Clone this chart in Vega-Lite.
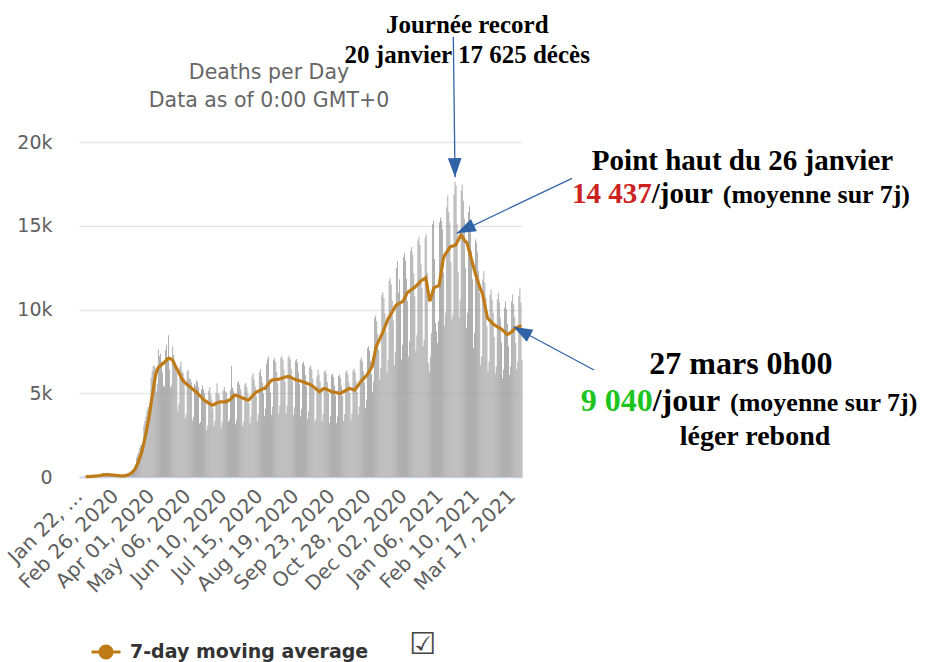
{
"$schema": "https://vega.github.io/schema/vega-lite/v6.json",
"width": 443, "height": 335,
"autosize": {"type": "none"},
"padding": {"left": 79, "top": 142, "right": 403, "bottom": 185},
"background": "white",
"data": {"values": [
{"date":"2020-01-22","deaths":17},{"date":"2020-01-23","deaths":1},{"date":"2020-01-24","deaths":8},{"date":"2020-01-25","deaths":16},{"date":"2020-01-26","deaths":14},{"date":"2020-01-27","deaths":26},{"date":"2020-01-28","deaths":49,"ma":19},{"date":"2020-01-29","deaths":2,"ma":17},{"date":"2020-01-30","deaths":38,"ma":22},{"date":"2020-01-31","deaths":42,"ma":27},
{"date":"2020-02-01","deaths":46,"ma":31},{"date":"2020-02-02","deaths":45,"ma":35},{"date":"2020-02-03","deaths":57,"ma":40},{"date":"2020-02-04","deaths":64,"ma":42},{"date":"2020-02-05","deaths":66,"ma":51},{"date":"2020-02-06","deaths":73,"ma":56},{"date":"2020-02-07","deaths":73,"ma":61},{"date":"2020-02-08","deaths":86,"ma":66},{"date":"2020-02-09","deaths":89,"ma":73},{"date":"2020-02-10","deaths":97,"ma":78},{"date":"2020-02-11","deaths":108,"ma":85},{"date":"2020-02-12","deaths":97,"ma":89},{"date":"2020-02-13","deaths":254,"ma":115},{"date":"2020-02-14","deaths":121,"ma":122},{"date":"2020-02-15","deaths":143,"ma":130},{"date":"2020-02-16","deaths":142,"ma":137},{"date":"2020-02-17","deaths":106,"ma":139},{"date":"2020-02-18","deaths":98,"ma":137},{"date":"2020-02-19","deaths":139,"ma":143},{"date":"2020-02-20","deaths":115,"ma":123},{"date":"2020-02-21","deaths":118,"ma":123},{"date":"2020-02-22","deaths":109,"ma":118},{"date":"2020-02-23","deaths":97,"ma":112},{"date":"2020-02-24","deaths":150,"ma":118},{"date":"2020-02-25","deaths":71,"ma":114},{"date":"2020-02-26","deaths":64,"ma":103},{"date":"2020-02-27","deaths":37,"ma":92},{"date":"2020-02-28","deaths":58,"ma":84},{"date":"2020-02-29","deaths":67,"ma":78},
{"date":"2020-03-01","deaths":73,"ma":74},{"date":"2020-03-02","deaths":66,"ma":62},{"date":"2020-03-03","deaths":72,"ma":62},{"date":"2020-03-04","deaths":84,"ma":65},{"date":"2020-03-05","deaths":80,"ma":71},{"date":"2020-03-06","deaths":101,"ma":78},{"date":"2020-03-07","deaths":103,"ma":83},{"date":"2020-03-08","deaths":228,"ma":105},{"date":"2020-03-09","deaths":201,"ma":124},{"date":"2020-03-10","deaths":272,"ma":153},{"date":"2020-03-11","deaths":328,"ma":188},{"date":"2020-03-12","deaths":351,"ma":226},{"date":"2020-03-13","deaths":438,"ma":274},{"date":"2020-03-14","deaths":406,"ma":318},{"date":"2020-03-15","deaths":630,"ma":400},{"date":"2020-03-16","deaths":760,"ma":490},{"date":"2020-03-17","deaths":1170,"ma":600},{"date":"2020-03-18","deaths":1350,"ma":740},{"date":"2020-03-19","deaths":1470,"ma":890},{"date":"2020-03-20","deaths":1730,"ma":1060},{"date":"2020-03-21","deaths":1910,"ma":1230},{"date":"2020-03-22","deaths":1920,"ma":1400},{"date":"2020-03-23","deaths":2090,"ma":1650},{"date":"2020-03-24","deaths":3060,"ma":1910},{"date":"2020-03-25","deaths":3350,"ma":2180},{"date":"2020-03-26","deaths":3590,"ma":2460},{"date":"2020-03-27","deaths":3970,"ma":2780},{"date":"2020-03-28","deaths":4200,"ma":3100},{"date":"2020-03-29","deaths":4070,"ma":3420},{"date":"2020-03-30","deaths":4490,"ma":3780},{"date":"2020-03-31","deaths":5920,"ma":4200},
{"date":"2020-04-01","deaths":6350,"ma":4620},{"date":"2020-04-02","deaths":6620,"ma":4990},{"date":"2020-04-03","deaths":6640,"ma":5380},{"date":"2020-04-04","deaths":6480,"ma":5770},{"date":"2020-04-05","deaths":5120,"ma":6130},{"date":"2020-04-06","deaths":5580,"ma":6320},{"date":"2020-04-07","deaths":7610,"ma":6480},{"date":"2020-04-08","deaths":7230,"ma":6570},{"date":"2020-04-09","deaths":7360,"ma":6620},{"date":"2020-04-10","deaths":6900,"ma":6670},{"date":"2020-04-11","deaths":6240,"ma":6720},{"date":"2020-04-12","deaths":5450,"ma":6770},{"date":"2020-04-13","deaths":5380,"ma":6820},{"date":"2020-04-14","deaths":7580,"ma":6880},{"date":"2020-04-15","deaths":7910,"ma":6950},{"date":"2020-04-16","deaths":7160,"ma":7020},{"date":"2020-04-17","deaths":8460,"ma":7080},{"date":"2020-04-18","deaths":6420,"ma":7090},{"date":"2020-04-19","deaths":5350,"ma":7060},{"date":"2020-04-20","deaths":5500,"ma":7030},{"date":"2020-04-21","deaths":7800,"ma":7000},{"date":"2020-04-22","deaths":7300,"ma":6900},{"date":"2020-04-23","deaths":6900,"ma":6760},{"date":"2020-04-24","deaths":6750,"ma":6620},{"date":"2020-04-25","deaths":6250,"ma":6500},{"date":"2020-04-26","deaths":3910,"ma":6400},{"date":"2020-04-27","deaths":4370,"ma":6280},{"date":"2020-04-28","deaths":6610,"ma":6160},{"date":"2020-04-29","deaths":6900,"ma":6040},{"date":"2020-04-30","deaths":6330,"ma":5910},
{"date":"2020-05-01","deaths":6210,"ma":5790},{"date":"2020-05-02","deaths":5920,"ma":5730},{"date":"2020-05-03","deaths":3520,"ma":5670},{"date":"2020-05-04","deaths":3740,"ma":5610},{"date":"2020-05-05","deaths":6300,"ma":5550},{"date":"2020-05-06","deaths":6410,"ma":5490},{"date":"2020-05-07","deaths":5870,"ma":5440},{"date":"2020-05-08","deaths":5870,"ma":5390},{"date":"2020-05-09","deaths":5660,"ma":5340},{"date":"2020-05-10","deaths":3380,"ma":5290},{"date":"2020-05-11","deaths":3580,"ma":5240},{"date":"2020-05-12","deaths":5570,"ma":5190},{"date":"2020-05-13","deaths":5470,"ma":5140},{"date":"2020-05-14","deaths":5770,"ma":5090},{"date":"2020-05-15","deaths":5670,"ma":5030},{"date":"2020-05-16","deaths":5370,"ma":4970},{"date":"2020-05-17","deaths":3190,"ma":4900},{"date":"2020-05-18","deaths":3280,"ma":4840},{"date":"2020-05-19","deaths":5240,"ma":4780},{"date":"2020-05-20","deaths":5470,"ma":4720},{"date":"2020-05-21","deaths":5240,"ma":4650},{"date":"2020-05-22","deaths":5020,"ma":4590},{"date":"2020-05-23","deaths":4470,"ma":4550},{"date":"2020-05-24","deaths":2790,"ma":4510},{"date":"2020-05-25","deaths":3090,"ma":4470},{"date":"2020-05-26","deaths":5150,"ma":4430},{"date":"2020-05-27","deaths":5360,"ma":4390},{"date":"2020-05-28","deaths":4930,"ma":4350},{"date":"2020-05-29","deaths":4630,"ma":4310},{"date":"2020-05-30","deaths":4080,"ma":4290},{"date":"2020-05-31","deaths":3040,"ma":4310},
{"date":"2020-06-01","deaths":3350,"ma":4340},{"date":"2020-06-02","deaths":5010,"ma":4370},{"date":"2020-06-03","deaths":5590,"ma":4410},{"date":"2020-06-04","deaths":5010,"ma":4440},{"date":"2020-06-05","deaths":4920,"ma":4460},{"date":"2020-06-06","deaths":4380,"ma":4480},{"date":"2020-06-07","deaths":2960,"ma":4490},{"date":"2020-06-08","deaths":3320,"ma":4490},{"date":"2020-06-09","deaths":5160,"ma":4480},{"date":"2020-06-10","deaths":5390,"ma":4480},{"date":"2020-06-11","deaths":5120,"ma":4490},{"date":"2020-06-12","deaths":5030,"ma":4490},{"date":"2020-06-13","deaths":4450,"ma":4520},{"date":"2020-06-14","deaths":3300,"ma":4550},{"date":"2020-06-15","deaths":3400,"ma":4580},{"date":"2020-06-16","deaths":5200,"ma":4610},{"date":"2020-06-17","deaths":6630,"ma":4670},{"date":"2020-06-18","deaths":5350,"ma":4740},{"date":"2020-06-19","deaths":5150,"ma":4810},{"date":"2020-06-20","deaths":4920,"ma":4860},{"date":"2020-06-21","deaths":3140,"ma":4890},{"date":"2020-06-22","deaths":3430,"ma":4870},{"date":"2020-06-23","deaths":5620,"ma":4850},{"date":"2020-06-24","deaths":5710,"ma":4830},{"date":"2020-06-25","deaths":5520,"ma":4800},{"date":"2020-06-26","deaths":5240,"ma":4780},{"date":"2020-06-27","deaths":4660,"ma":4750},{"date":"2020-06-28","deaths":3040,"ma":4730},{"date":"2020-06-29","deaths":3310,"ma":4700},{"date":"2020-06-30","deaths":5520,"ma":4680},
{"date":"2020-07-01","deaths":5610,"ma":4650},{"date":"2020-07-02","deaths":5340,"ma":4620},{"date":"2020-07-03","deaths":4970,"ma":4600},{"date":"2020-07-04","deaths":4420,"ma":4590},{"date":"2020-07-05","deaths":3200,"ma":4650},{"date":"2020-07-06","deaths":3600,"ma":4710},{"date":"2020-07-07","deaths":6000,"ma":4780},{"date":"2020-07-08","deaths":6200,"ma":4840},{"date":"2020-07-09","deaths":5800,"ma":4910},{"date":"2020-07-10","deaths":5400,"ma":4980},{"date":"2020-07-11","deaths":4800,"ma":5040},{"date":"2020-07-12","deaths":3330,"ma":5090},{"date":"2020-07-13","deaths":3740,"ma":5110},{"date":"2020-07-14","deaths":6240,"ma":5140},{"date":"2020-07-15","deaths":6450,"ma":5170},{"date":"2020-07-16","deaths":6030,"ma":5200},{"date":"2020-07-17","deaths":5620,"ma":5230},{"date":"2020-07-18","deaths":4990,"ma":5260},{"date":"2020-07-19","deaths":3620,"ma":5290},{"date":"2020-07-20","deaths":4070,"ma":5290},{"date":"2020-07-21","deaths":6780,"ma":5370},{"date":"2020-07-22","deaths":7050,"ma":5450},{"date":"2020-07-23","deaths":7200,"ma":5530},{"date":"2020-07-24","deaths":5800,"ma":5610},{"date":"2020-07-25","deaths":5030,"ma":5690},{"date":"2020-07-26","deaths":3720,"ma":5750},{"date":"2020-07-27","deaths":4190,"ma":5790},{"date":"2020-07-28","deaths":6980,"ma":5800},{"date":"2020-07-29","deaths":7100,"ma":5810},{"date":"2020-07-30","deaths":6870,"ma":5820},{"date":"2020-07-31","deaths":6290,"ma":5820},
{"date":"2020-08-01","deaths":5590,"ma":5830},{"date":"2020-08-02","deaths":3800,"ma":5830},{"date":"2020-08-03","deaths":4270,"ma":5850},{"date":"2020-08-04","deaths":7120,"ma":5870},{"date":"2020-08-05","deaths":7230,"ma":5890},{"date":"2020-08-06","deaths":7000,"ma":5910},{"date":"2020-08-07","deaths":6400,"ma":5930},{"date":"2020-08-08","deaths":5690,"ma":5950},{"date":"2020-08-09","deaths":3810,"ma":5970},{"date":"2020-08-10","deaths":4280,"ma":5980},{"date":"2020-08-11","deaths":7140,"ma":5990},{"date":"2020-08-12","deaths":7260,"ma":5990},{"date":"2020-08-13","deaths":7020,"ma":5970},{"date":"2020-08-14","deaths":6430,"ma":5950},{"date":"2020-08-15","deaths":5710,"ma":5920},{"date":"2020-08-16","deaths":3700,"ma":5890},{"date":"2020-08-17","deaths":4160,"ma":5860},{"date":"2020-08-18","deaths":6940,"ma":5830},{"date":"2020-08-19","deaths":7050,"ma":5810},{"date":"2020-08-20","deaths":6820,"ma":5790},{"date":"2020-08-21","deaths":6240,"ma":5780},{"date":"2020-08-22","deaths":5550,"ma":5760},{"date":"2020-08-23","deaths":3610,"ma":5740},{"date":"2020-08-24","deaths":4060,"ma":5720},{"date":"2020-08-25","deaths":6770,"ma":5700},{"date":"2020-08-26","deaths":6880,"ma":5690},{"date":"2020-08-27","deaths":6660,"ma":5660},{"date":"2020-08-28","deaths":6090,"ma":5640},{"date":"2020-08-29","deaths":5410,"ma":5610},{"date":"2020-08-30","deaths":3480,"ma":5590},{"date":"2020-08-31","deaths":3920,"ma":5560},
{"date":"2020-09-01","deaths":6530,"ma":5540},{"date":"2020-09-02","deaths":6640,"ma":5510},{"date":"2020-09-03","deaths":6420,"ma":5490},{"date":"2020-09-04","deaths":5880,"ma":5440},{"date":"2020-09-05","deaths":5210,"ma":5390},{"date":"2020-09-06","deaths":3300,"ma":5340},{"date":"2020-09-07","deaths":3500,"ma":5290},{"date":"2020-09-08","deaths":6000,"ma":5240},{"date":"2020-09-09","deaths":6400,"ma":5190},{"date":"2020-09-10","deaths":6100,"ma":5140},{"date":"2020-09-11","deaths":5700,"ma":5090},{"date":"2020-09-12","deaths":5050,"ma":5140},{"date":"2020-09-13","deaths":3350,"ma":5190},{"date":"2020-09-14","deaths":3770,"ma":5240},{"date":"2020-09-15","deaths":6280,"ma":5270},{"date":"2020-09-16","deaths":6380,"ma":5290},{"date":"2020-09-17","deaths":6170,"ma":5260},{"date":"2020-09-18","deaths":5650,"ma":5230},{"date":"2020-09-19","deaths":5010,"ma":5200},{"date":"2020-09-20","deaths":3240,"ma":5170},{"date":"2020-09-21","deaths":3640,"ma":5140},{"date":"2020-09-22","deaths":6070,"ma":5110},{"date":"2020-09-23","deaths":6170,"ma":5090},{"date":"2020-09-24","deaths":5970,"ma":5080},{"date":"2020-09-25","deaths":5470,"ma":5060},{"date":"2020-09-26","deaths":4860,"ma":5050},{"date":"2020-09-27","deaths":3210,"ma":5040},{"date":"2020-09-28","deaths":3610,"ma":5030},{"date":"2020-09-29","deaths":6020,"ma":5010},{"date":"2020-09-30","deaths":6120,"ma":5000},
{"date":"2020-10-01","deaths":5920,"ma":4990},{"date":"2020-10-02","deaths":5420,"ma":5020},{"date":"2020-10-03","deaths":4840,"ma":5050},{"date":"2020-10-04","deaths":3340,"ma":5090},{"date":"2020-10-05","deaths":3760,"ma":5120},{"date":"2020-10-06","deaths":6260,"ma":5150},{"date":"2020-10-07","deaths":6370,"ma":5190},{"date":"2020-10-08","deaths":6160,"ma":5220},{"date":"2020-10-09","deaths":5640,"ma":5260},{"date":"2020-10-10","deaths":5010,"ma":5290},{"date":"2020-10-11","deaths":3390,"ma":5270},{"date":"2020-10-12","deaths":3820,"ma":5250},{"date":"2020-10-13","deaths":6360,"ma":5230},{"date":"2020-10-14","deaths":6470,"ma":5210},{"date":"2020-10-15","deaths":6250,"ma":5190},{"date":"2020-10-16","deaths":5720,"ma":5270},{"date":"2020-10-17","deaths":5090,"ma":5350},{"date":"2020-10-18","deaths":3740,"ma":5430},{"date":"2020-10-19","deaths":4210,"ma":5510},{"date":"2020-10-20","deaths":7020,"ma":5600},{"date":"2020-10-21","deaths":7140,"ma":5690},{"date":"2020-10-22","deaths":6900,"ma":5760},{"date":"2020-10-23","deaths":6320,"ma":5820},{"date":"2020-10-24","deaths":5620,"ma":5890},{"date":"2020-10-25","deaths":4100,"ma":5960},{"date":"2020-10-26","deaths":4610,"ma":6020},{"date":"2020-10-27","deaths":7680,"ma":6090},{"date":"2020-10-28","deaths":7810,"ma":6190},{"date":"2020-10-29","deaths":7550,"ma":6290},{"date":"2020-10-30","deaths":6910,"ma":6390},{"date":"2020-10-31","deaths":6140,"ma":6490},
{"date":"2020-11-01","deaths":5060,"ma":6590},{"date":"2020-11-02","deaths":5690,"ma":6900},{"date":"2020-11-03","deaths":9480,"ma":7200},{"date":"2020-11-04","deaths":9640,"ma":7500},{"date":"2020-11-05","deaths":9320,"ma":7790},{"date":"2020-11-06","deaths":8530,"ma":7930},{"date":"2020-11-07","deaths":7580,"ma":8060},{"date":"2020-11-08","deaths":5790,"ma":8190},{"date":"2020-11-09","deaths":6520,"ma":8320},{"date":"2020-11-10","deaths":10860,"ma":8460},{"date":"2020-11-11","deaths":11040,"ma":8590},{"date":"2020-11-12","deaths":10680,"ma":8740},{"date":"2020-11-13","deaths":9770,"ma":8890},{"date":"2020-11-14","deaths":8690,"ma":9050},{"date":"2020-11-15","deaths":6240,"ma":9200},{"date":"2020-11-16","deaths":7020,"ma":9360},{"date":"2020-11-17","deaths":11700,"ma":9500},{"date":"2020-11-18","deaths":11900,"ma":9590},{"date":"2020-11-19","deaths":11510,"ma":9700},{"date":"2020-11-20","deaths":10530,"ma":9800},{"date":"2020-11-21","deaths":9350,"ma":9910},{"date":"2020-11-22","deaths":6660,"ma":10010},{"date":"2020-11-23","deaths":7490,"ma":10120},{"date":"2020-11-24","deaths":12480,"ma":10230},{"date":"2020-11-25","deaths":12900,"ma":10290},{"date":"2020-11-26","deaths":11000,"ma":10320},{"date":"2020-11-27","deaths":11800,"ma":10350},{"date":"2020-11-28","deaths":10470,"ma":10380},{"date":"2020-11-29","deaths":7010,"ma":10420},{"date":"2020-11-30","deaths":7880,"ma":10460},
{"date":"2020-12-01","deaths":13140,"ma":10490},{"date":"2020-12-02","deaths":13360,"ma":10610},{"date":"2020-12-03","deaths":12920,"ma":10730},{"date":"2020-12-04","deaths":11830,"ma":10860},{"date":"2020-12-05","deaths":10510,"ma":10990},{"date":"2020-12-06","deaths":7200,"ma":11040},{"date":"2020-12-07","deaths":8100,"ma":11080},{"date":"2020-12-08","deaths":13500,"ma":11130},{"date":"2020-12-09","deaths":13730,"ma":11180},{"date":"2020-12-10","deaths":13280,"ma":11220},{"date":"2020-12-11","deaths":12150,"ma":11270},{"date":"2020-12-12","deaths":10790,"ma":11300},{"date":"2020-12-13","deaths":7520,"ma":11360},{"date":"2020-12-14","deaths":8460,"ma":11420},{"date":"2020-12-15","deaths":14100,"ma":11480},{"date":"2020-12-16","deaths":14340,"ma":11540},{"date":"2020-12-17","deaths":13870,"ma":11600},{"date":"2020-12-18","deaths":12690,"ma":11690},{"date":"2020-12-19","deaths":11270,"ma":11730},{"date":"2020-12-20","deaths":7800,"ma":11770},{"date":"2020-12-21","deaths":8200,"ma":11810},{"date":"2020-12-22","deaths":14300,"ma":11850},{"date":"2020-12-23","deaths":14500,"ma":11890},{"date":"2020-12-24","deaths":12200,"ma":11600},{"date":"2020-12-25","deaths":6800,"ma":11200},{"date":"2020-12-26","deaths":6300,"ma":10840},{"date":"2020-12-27","deaths":7200,"ma":10490},{"date":"2020-12-28","deaths":8600,"ma":10680},{"date":"2020-12-29","deaths":15100,"ma":10880},{"date":"2020-12-30","deaths":15300,"ma":11090},{"date":"2020-12-31","deaths":13000,"ma":11290},
{"date":"2021-01-01","deaths":9200,"ma":11320},{"date":"2021-01-02","deaths":8700,"ma":11350},{"date":"2021-01-03","deaths":8000,"ma":11380},{"date":"2021-01-04","deaths":9300,"ma":11410},{"date":"2021-01-05","deaths":15200,"ma":11430},{"date":"2021-01-06","deaths":15500,"ma":11800},{"date":"2021-01-07","deaths":15300,"ma":12200},{"date":"2021-01-08","deaths":14800,"ma":12600},{"date":"2021-01-09","deaths":12200,"ma":13000},{"date":"2021-01-10","deaths":9000,"ma":13190},{"date":"2021-01-11","deaths":9800,"ma":13290},{"date":"2021-01-12","deaths":16100,"ma":13380},{"date":"2021-01-13","deaths":16800,"ma":13470},{"date":"2021-01-14","deaths":15800,"ma":13560},{"date":"2021-01-15","deaths":15200,"ma":13660},{"date":"2021-01-16","deaths":12850,"ma":13750},{"date":"2021-01-17","deaths":9400,"ma":13770},{"date":"2021-01-18","deaths":9700,"ma":13780},{"date":"2021-01-19","deaths":16900,"ma":13800},{"date":"2021-01-20","deaths":17625,"ma":13820},{"date":"2021-01-21","deaths":17400,"ma":13830},{"date":"2021-01-22","deaths":15100,"ma":13950},{"date":"2021-01-23","deaths":12225,"ma":14080},{"date":"2021-01-24","deaths":9500,"ma":14200},{"date":"2021-01-25","deaths":10600,"ma":14320},{"date":"2021-01-26","deaths":17100,"ma":14437},{"date":"2021-01-27","deaths":17450,"ma":14380},{"date":"2021-01-28","deaths":16500,"ma":14300},{"date":"2021-01-29","deaths":15400,"ma":14200},{"date":"2021-01-30","deaths":12500,"ma":14100},{"date":"2021-01-31","deaths":8900,"ma":14050},
{"date":"2021-02-01","deaths":9800,"ma":13990},{"date":"2021-02-02","deaths":15800,"ma":13770},{"date":"2021-02-03","deaths":16200,"ma":13550},{"date":"2021-02-04","deaths":15000,"ma":13330},{"date":"2021-02-05","deaths":13500,"ma":13100},{"date":"2021-02-06","deaths":11800,"ma":12870},{"date":"2021-02-07","deaths":7700,"ma":12640},{"date":"2021-02-08","deaths":8600,"ma":12420},{"date":"2021-02-09","deaths":14200,"ma":12190},{"date":"2021-02-10","deaths":14000,"ma":12000},{"date":"2021-02-11","deaths":13400,"ma":11820},{"date":"2021-02-12","deaths":12300,"ma":11630},{"date":"2021-02-13","deaths":11000,"ma":11440},{"date":"2021-02-14","deaths":6700,"ma":11240},{"date":"2021-02-15","deaths":7200,"ma":11110},{"date":"2021-02-16","deaths":11800,"ma":10990},{"date":"2021-02-17","deaths":12300,"ma":10690},{"date":"2021-02-18","deaths":11600,"ma":10390},{"date":"2021-02-19","deaths":10700,"ma":10090},{"date":"2021-02-20","deaths":9000,"ma":9790},{"date":"2021-02-21","deaths":6300,"ma":9490},{"date":"2021-02-22","deaths":6900,"ma":9430},{"date":"2021-02-23","deaths":10900,"ma":9360},{"date":"2021-02-24","deaths":11200,"ma":9300},{"date":"2021-02-25","deaths":10600,"ma":9240},{"date":"2021-02-26","deaths":9800,"ma":9170},{"date":"2021-02-27","deaths":8350,"ma":9110},{"date":"2021-02-28","deaths":6200,"ma":9070},
{"date":"2021-03-01","deaths":6600,"ma":9030},{"date":"2021-03-02","deaths":10600,"ma":8990},{"date":"2021-03-03","deaths":11000,"ma":8950},{"date":"2021-03-04","deaths":10400,"ma":8920},{"date":"2021-03-05","deaths":9500,"ma":8880},{"date":"2021-03-06","deaths":8000,"ma":8850},{"date":"2021-03-07","deaths":5900,"ma":8810},{"date":"2021-03-08","deaths":6400,"ma":8750},{"date":"2021-03-09","deaths":10100,"ma":8690},{"date":"2021-03-10","deaths":10500,"ma":8630},{"date":"2021-03-11","deaths":10000,"ma":8570},{"date":"2021-03-12","deaths":9150,"ma":8510},{"date":"2021-03-13","deaths":7800,"ma":8520},{"date":"2021-03-14","deaths":6100,"ma":8560},{"date":"2021-03-15","deaths":6600,"ma":8600},{"date":"2021-03-16","deaths":10500,"ma":8650},{"date":"2021-03-17","deaths":10900,"ma":8690},{"date":"2021-03-18","deaths":10300,"ma":8760},{"date":"2021-03-19","deaths":9550,"ma":8830},{"date":"2021-03-20","deaths":8000,"ma":8890},{"date":"2021-03-21","deaths":6400,"ma":8920},{"date":"2021-03-22","deaths":6900,"ma":8950},{"date":"2021-03-23","deaths":10800,"ma":8970},{"date":"2021-03-24","deaths":11300,"ma":8990},{"date":"2021-03-25","deaths":10400,"ma":9010},{"date":"2021-03-26","deaths":7000,"ma":9040}
]},
"layer": [
{"mark": {"type": "bar", "color": "#999999", "binSpacing": 0.25},
 "encoding": {
  "x": {"field": "date", "type": "temporal", "timeUnit": "utcyearmonthdate",
   "scale": {"type": "utc", "nice": false, "domain": [{"year":2020,"month":1,"date":22,"utc":true},{"year":2021,"month":3,"date":27,"utc":true}]},
   "axis": {"title": null, "grid": false, "ticks": false, "labels": false, "domainColor": "#ccd6eb", "domainWidth": 1.5}},
  "y": {"field": "deaths", "type": "quantitative",
   "scale": {"domain": [0, 20000], "nice": false},
   "axis": {"title": null, "values": [0, 5000, 10000, 15000, 20000], "labelExpr": "datum.value == 0 ? '0' : format(datum.value / 1000, 'd') + 'k'", "grid": true, "gridColor": "#e6e6e6", "gridWidth": 1.5, "domain": false, "ticks": false, "tickSize": 0, "labelPadding": 27, "labelFontSize": 19, "labelColor": "#606060", "labelFont": "DejaVu Sans"}}
 }},
{"mark": {"type": "line", "strokeWidth": 3.2},
 "encoding": {
  "x": {"field": "date", "type": "temporal", "timeUnit": "utcyearmonthdate", "bandPosition": 0.5},
  "y": {"field": "ma", "type": "quantitative"},
  "color": {"datum": "7-day moving average", "type": "nominal",
   "scale": {"range": ["#bf7b18"]},
   "legend": {"title": null, "orient": "none", "legendX": 11, "legendY": 494, "labelLimit": 0, "symbolType": "M-1,0L1,0M-0.42,0A0.42,0.42,0,1,0,0.42,0A0.42,0.42,0,1,0,-0.42,0Z", "symbolSize": 841, "symbolStrokeWidth": 3, "symbolFillColor": "#bf7b18", "symbolStrokeColor": "#bf7b18", "labelFont": "DejaVu Sans", "labelFontSize": 19, "labelFontWeight": "bold", "labelColor": "#333333", "labelOffset": 8}}
 }},
{"data": {"values": [
  {"tick":"2020-01-22","label":"Jan 22, …"},{"tick":"2020-02-26","label":"Feb 26, 2020"},{"tick":"2020-04-01","label":"Apr 01, 2020"},{"tick":"2020-05-06","label":"May 06, 2020"},{"tick":"2020-06-10","label":"Jun 10, 2020"},{"tick":"2020-07-15","label":"Jul 15, 2020"},{"tick":"2020-08-19","label":"Aug 19, 2020"},{"tick":"2020-09-23","label":"Sep 23, 2020"},{"tick":"2020-10-28","label":"Oct 28, 2020"},{"tick":"2020-12-02","label":"Dec 02, 2020"},{"tick":"2021-01-06","label":"Jan 06, 2021"},{"tick":"2021-02-10","label":"Feb 10, 2021"},{"tick":"2021-03-17","label":"Mar 17, 2021"}]},
 "mark": {"type": "text", "font": "DejaVu Sans", "fontSize": 20, "color": "#606060", "align": "right", "baseline": "middle", "angle": 315},
 "encoding": {"x": {"field": "tick", "type": "temporal", "timeUnit": "utcyearmonthdate", "bandPosition": 0.5}, "y": {"datum": -955, "type": "quantitative"}, "text": {"field": "label"}}},
{"data": {"values": [{"label": "Deaths per Day"}]},
 "mark": {"type": "text", "font": "DejaVu Sans", "fontSize": 20.5, "color": "#666666", "align": "center", "baseline": "alphabetic"},
 "encoding": {"x": {"datum": {"year":2020,"month":7,"date":24,"hours":10,"utc":true}, "type": "temporal", "scale": {"type": "utc"}}, "y": {"datum": 23779, "type": "quantitative"}, "text": {"field": "label"}}},
{"data": {"values": [{"label": "Data as of 0:00 GMT+0"}]},
 "mark": {"type": "text", "font": "DejaVu Sans", "fontSize": 20.5, "color": "#666666", "align": "center", "baseline": "alphabetic"},
 "encoding": {"x": {"datum": {"year":2020,"month":7,"date":24,"hours":10,"utc":true}, "type": "temporal", "scale": {"type": "utc"}}, "y": {"datum": 22101, "type": "quantitative"}, "text": {"field": "label"}}},
{"data": {"values": [{"label": "☑"}]},
 "mark": {"type": "text", "font": "DejaVu Sans", "fontSize": 30, "color": "#444444", "align": "center", "baseline": "middle"},
 "encoding": {"x": {"datum": {"year":2020,"month":12,"date":20,"hours":10,"utc":true}, "type": "temporal", "scale": {"type": "utc"}}, "y": {"datum": -10030, "type": "quantitative"}, "text": {"field": "label"}}},
{"data": {"values": [{}]},
 "mark": {"type": "rule", "color": "#3465a8", "strokeWidth": 1.3},
 "encoding": {"x": {"datum": {"year":2021,"month":1,"date":19,"hours":8,"utc":true}, "type": "temporal", "scale": {"type": "utc"}}, "y": {"datum": 26287, "type": "quantitative"}, "x2": {"datum": {"year":2021,"month":1,"date":21,"hours":0,"utc":true}}, "y2": {"datum": 17900}}},
{"data": {"values": [{}]},
 "mark": {"type": "point", "shape": "M0,0L-0.36,-1L0.36,-1Z", "size": 1444, "angle": -1, "filled": true, "color": "#3062a6", "opacity": 1},
 "encoding": {"x": {"datum": {"year":2021,"month":1,"date":21,"hours":0,"utc":true}, "type": "temporal", "scale": {"type": "utc"}}, "y": {"datum": 17900, "type": "quantitative"}}},
{"data": {"values": [{}]},
 "mark": {"type": "rule", "color": "#3465a8", "strokeWidth": 1.3},
 "encoding": {"x": {"datum": {"year":2021,"month":5,"date":14,"hours":13,"utc":true}, "type": "temporal", "scale": {"type": "utc"}}, "y": {"datum": 17833, "type": "quantitative"}, "x2": {"datum": {"year":2021,"month":1,"date":22,"hours":15,"utc":true}}, "y2": {"datum": 14549}}},
{"data": {"values": [{}]},
 "mark": {"type": "point", "shape": "M0,0L-0.36,-1L0.36,-1Z", "size": 1444, "angle": 64.5, "filled": true, "color": "#3062a6", "opacity": 1},
 "encoding": {"x": {"datum": {"year":2021,"month":1,"date":22,"hours":15,"utc":true}, "type": "temporal", "scale": {"type": "utc"}}, "y": {"datum": 14549, "type": "quantitative"}}},
{"data": {"values": [{}]},
 "mark": {"type": "rule", "color": "#3465a8", "strokeWidth": 1.3},
 "encoding": {"x": {"datum": {"year":2021,"month":6,"date":4,"hours":21,"utc":true}, "type": "temporal", "scale": {"type": "utc"}}, "y": {"datum": 6388, "type": "quantitative"}, "x2": {"datum": {"year":2021,"month":3,"date":18,"hours":14,"utc":true}}, "y2": {"datum": 8973}}},
{"data": {"values": [{}]},
 "mark": {"type": "point", "shape": "M0,0L-0.36,-1L0.36,-1Z", "size": 1444, "angle": 118.2, "filled": true, "color": "#3062a6", "opacity": 1},
 "encoding": {"x": {"datum": {"year":2021,"month":3,"date":18,"hours":14,"utc":true}, "type": "temporal", "scale": {"type": "utc"}}, "y": {"datum": 8973, "type": "quantitative"}}},
{"data": {"values": [{"label": "Journée record"}]},
 "mark": {"type": "text", "font": "Liberation Serif", "fontWeight": "bold", "fontSize": 25, "color": "#000000", "align": "center", "baseline": "alphabetic"},
 "encoding": {"x": {"datum": {"year":2021,"month":2,"date":1,"hours":20,"utc":true}, "type": "temporal", "scale": {"type": "utc"}}, "y": {"datum": 26489, "type": "quantitative"}, "text": {"field": "label"}}},
{"data": {"values": [{"label": "20 janvier 17 625 décès"}]},
 "mark": {"type": "text", "font": "Liberation Serif", "fontWeight": "bold", "fontSize": 25, "color": "#000000", "align": "center", "baseline": "alphabetic"},
 "encoding": {"x": {"datum": {"year":2021,"month":2,"date":1,"hours":20,"utc":true}, "type": "temporal", "scale": {"type": "utc"}}, "y": {"datum": 24746, "type": "quantitative"}, "text": {"field": "label"}}},
{"data": {"values": [{"label": "Point haut du 26 janvier"}]},
 "mark": {"type": "text", "font": "Liberation Serif", "fontWeight": "bold", "fontSize": 29, "color": "#000000", "align": "center", "baseline": "alphabetic"},
 "encoding": {"x": {"datum": {"year":2021,"month":10,"date":27,"hours":1,"utc":true}, "type": "temporal", "scale": {"type": "utc"}}, "y": {"datum": 18328, "type": "quantitative"}, "text": {"field": "label"}}},
{"data": {"values": [{"label": "14 437"}]},
 "mark": {"type": "text", "font": "Liberation Serif", "fontWeight": "bold", "fontSize": 29, "color": "#cc2222", "align": "right", "baseline": "alphabetic"},
 "encoding": {"x": {"datum": {"year":2021,"month":7,"date":30,"hours":21,"utc":true}, "type": "temporal", "scale": {"type": "utc"}}, "y": {"datum": 16340, "type": "quantitative"}, "text": {"field": "label"}}},
{"data": {"values": [{"label": "/jour"}]},
 "mark": {"type": "text", "font": "Liberation Serif", "fontWeight": "bold", "fontSize": 29, "color": "#000000", "align": "left", "baseline": "alphabetic"},
 "encoding": {"x": {"datum": {"year":2021,"month":7,"date":30,"hours":21,"utc":true}, "type": "temporal", "scale": {"type": "utc"}}, "y": {"datum": 16340, "type": "quantitative"}, "text": {"field": "label"}}},
{"data": {"values": [{"label": "(moyenne sur 7j)"}]},
 "mark": {"type": "text", "font": "Liberation Serif", "fontWeight": "bold", "fontSize": 26, "color": "#000000", "align": "left", "baseline": "alphabetic"},
 "encoding": {"x": {"datum": {"year":2021,"month":10,"date":7,"hours":20,"utc":true}, "type": "temporal", "scale": {"type": "utc"}}, "y": {"datum": 16340, "type": "quantitative"}, "text": {"field": "label"}}},
{"data": {"values": [{"label": "27 mars 0h00"}]},
 "mark": {"type": "text", "font": "Liberation Serif", "fontWeight": "bold", "fontSize": 32, "color": "#000000", "align": "center", "baseline": "alphabetic"},
 "encoding": {"x": {"datum": {"year":2021,"month":10,"date":25,"hours":10,"utc":true}, "type": "temporal", "scale": {"type": "utc"}}, "y": {"datum": 6131, "type": "quantitative"}, "text": {"field": "label"}}},
{"data": {"values": [{"label": "9 040"}]},
 "mark": {"type": "text", "font": "Liberation Serif", "fontWeight": "bold", "fontSize": 32, "color": "#1ec41e", "align": "right", "baseline": "alphabetic"},
 "encoding": {"x": {"datum": {"year":2021,"month":7,"date":31,"hours":21,"utc":true}, "type": "temporal", "scale": {"type": "utc"}}, "y": {"datum": 3940, "type": "quantitative"}, "text": {"field": "label"}}},
{"data": {"values": [{"label": "/jour"}]},
 "mark": {"type": "text", "font": "Liberation Serif", "fontWeight": "bold", "fontSize": 32, "color": "#000000", "align": "left", "baseline": "alphabetic"},
 "encoding": {"x": {"datum": {"year":2021,"month":7,"date":31,"hours":21,"utc":true}, "type": "temporal", "scale": {"type": "utc"}}, "y": {"datum": 3940, "type": "quantitative"}, "text": {"field": "label"}}},
{"data": {"values": [{"label": "(moyenne sur 7j)"}]},
 "mark": {"type": "text", "font": "Liberation Serif", "fontWeight": "bold", "fontSize": 26, "color": "#000000", "align": "left", "baseline": "alphabetic"},
 "encoding": {"x": {"datum": {"year":2021,"month":10,"date":14,"hours":22,"utc":true}, "type": "temporal", "scale": {"type": "utc"}}, "y": {"datum": 3940, "type": "quantitative"}, "text": {"field": "label"}}},
{"data": {"values": [{"label": "léger rebond"}]},
 "mark": {"type": "text", "font": "Liberation Serif", "fontWeight": "bold", "fontSize": 28, "color": "#000000", "align": "center", "baseline": "alphabetic"},
 "encoding": {"x": {"datum": {"year":2021,"month":11,"date":8,"hours":4,"utc":true}, "type": "temporal", "scale": {"type": "utc"}}, "y": {"datum": 1910, "type": "quantitative"}, "text": {"field": "label"}}}
],
"config": {"view": {"stroke": null}, "font": "DejaVu Sans"}
}
